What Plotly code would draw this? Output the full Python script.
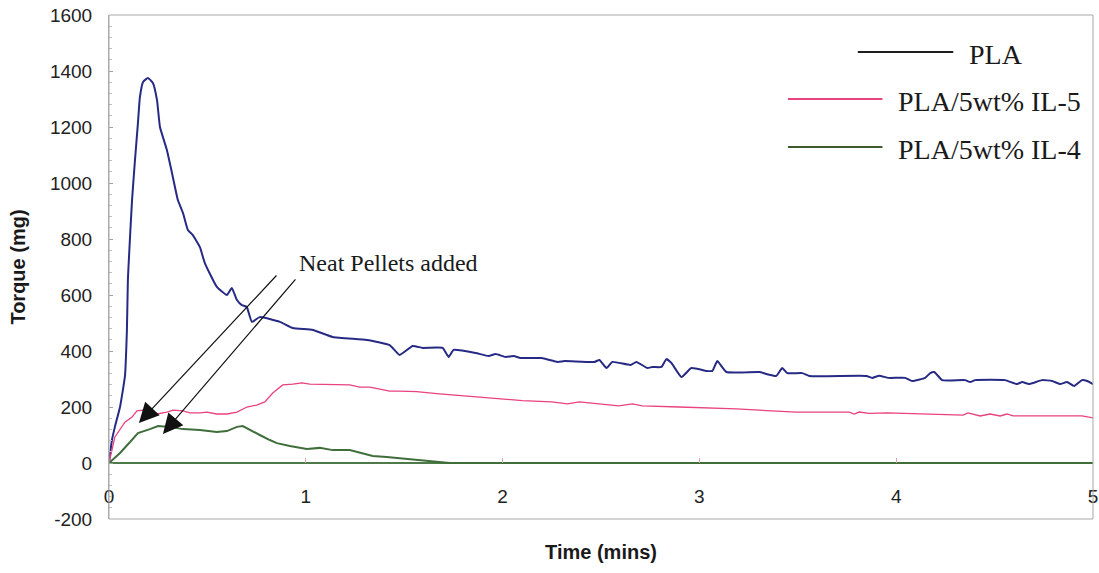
import plotly.graph_objects as go

# Torque traces recorded during melt mixing (time in minutes, torque in mg)
time_pla = [0, 0.015, 0.030, 0.056, 0.081, 0.091, 0.096, 0.099, 0.117, 0.132, 0.147, 0.157,
            0.173, 0.198, 0.223, 0.244, 0.259, 0.294, 0.320, 0.350, 0.376, 0.401, 0.426,
            0.462, 0.487, 0.548, 0.599, 0.624, 0.650, 0.675, 0.700, 0.726, 0.766, 0.868,
            0.934, 1.036, 1.137, 1.310, 1.426, 1.477, 1.543, 1.594, 1.695, 1.726, 1.751,
            1.863, 1.929, 1.964, 2.015, 2.056, 2.091, 2.198, 2.280, 2.315, 2.467, 2.492,
            2.528, 2.558, 2.650, 2.680, 2.736, 2.761, 2.807, 2.832, 2.858, 2.909, 2.959,
            3.036, 3.066, 3.091, 3.137, 3.305, 3.340, 3.391, 3.421, 3.447, 3.523, 3.558,
            3.848, 3.878, 3.914, 3.960, 4.046, 4.081, 4.147, 4.173, 4.193, 4.234, 4.350,
            4.376, 4.401, 4.553, 4.614, 4.640, 4.675, 4.741, 4.792, 4.832, 4.868, 4.904,
            4.944, 4.970, 5.0]
torque_pla = [0, 82, 129, 200, 310, 475, 654, 700, 939, 1082, 1214, 1307,
              1361, 1375, 1357, 1296, 1200, 1118, 1036, 939, 893, 832, 814,
              771, 714, 629, 600, 625, 582, 564, 557, 504, 521, 504,
              482, 475, 450, 439, 421, 386, 418, 411, 411, 379, 404,
              393, 382, 389, 379, 382, 375, 375, 361, 364, 361, 368,
              339, 361, 350, 361, 339, 343, 343, 371, 357, 307, 339,
              329, 329, 364, 325, 325, 318, 311, 339, 321, 321, 311,
              311, 304, 312, 304, 304, 293, 304, 321, 325, 296, 296,
              289, 296, 296, 282, 289, 282, 296, 293, 282, 289, 275,
              296, 293, 282]

time_il5 = [0, 0.015, 0.030, 0.081, 0.117, 0.142, 0.173, 0.198, 0.244, 0.294, 0.325, 0.376,
            0.411, 0.462, 0.497, 0.548, 0.599, 0.650, 0.701, 0.751, 0.792, 0.832, 0.883,
            0.934, 0.980, 1.020, 1.223, 1.274, 1.325, 1.376, 1.426, 1.477, 1.563, 1.665,
            1.820, 1.970, 2.100, 2.250, 2.330, 2.390, 2.510, 2.590, 2.660, 2.710, 2.898,
            3.096, 3.188, 3.492, 3.761, 3.787, 3.812, 3.863, 3.954, 4.340, 4.365, 4.426,
            4.477, 4.528, 4.563, 4.594, 4.944, 5.0]
torque_il5 = [0, 46, 93, 146, 164, 186, 189, 182, 175, 182, 189, 186,
              179, 179, 182, 175, 175, 182, 200, 207, 218, 250, 279,
              282, 286, 282, 279, 271, 271, 264, 257, 257, 255, 248,
              240, 232, 223, 218, 211, 218, 211, 204, 211, 204, 200,
              196, 193, 182, 182, 175, 182, 177, 179, 171, 179, 168,
              175, 168, 175, 168, 168, 161]

time_il4 = [0, 0.056, 0.107, 0.147, 0.208, 0.249, 0.310, 0.376, 0.462, 0.548, 0.599, 0.650,
            0.680, 0.716, 0.766, 0.817, 0.853, 0.919, 1.005, 1.071, 1.137, 1.223, 1.274,
            1.340, 1.411, 1.528, 1.614, 1.731, 5.0]
torque_il4 = [0, 36, 75, 107, 121, 132, 129, 121, 118, 111, 114, 129,
              132, 118, 100, 82, 71, 61, 50, 54, 46, 46, 36,
              25, 21, 14, 7, 0, 0]

series_names = ["PLA", "PLA/5wt% IL-5", "PLA/5wt% IL-4"]
series_colors = ["#262a84", "#e8427f", "#3f6e3b"]
legend_colors = ["#1e1e1e", "#e8427f", "#3f5a2e"]

x_ticks = [0, 1, 2, 3, 4, 5]
y_ticks = [-200, 0, 200, 400, 600, 800, 1000, 1200, 1400, 1600]
y_tick_labels = [str(v) for v in y_ticks]

Y_MIN, Y_MAX = -200, 1600

fig = go.Figure()
fig.add_trace(go.Scatter(x=time_pla, y=torque_pla, mode="lines", name=series_names[0],
                         line=dict(color=series_colors[0], width=2, shape="spline", smoothing=0.4)))
fig.add_trace(go.Scatter(x=time_il5, y=torque_il5, mode="lines", name=series_names[1],
                         line=dict(color=series_colors[1], width=1.3)))
fig.add_trace(go.Scatter(x=time_il4, y=torque_il4, mode="lines", name=series_names[2],
                         line=dict(color=series_colors[2], width=2)))

tick_font = dict(family="Liberation Sans, Arial, sans-serif", size=19, color="#222222")
title_font = dict(family="Liberation Sans, Arial, sans-serif", size=20, color="#1a1a1a")
serif_font = dict(family="Liberation Serif, Times New Roman, serif", size=28, color="#1a1a1a")

fig.update_layout(
    width=1099, height=573,
    margin=dict(l=109, r=6, t=15, b=54),
    paper_bgcolor="white", plot_bgcolor="white",
    showlegend=False,
    xaxis=dict(
        range=[0, 5], anchor="free", position=(0 - Y_MIN) / (Y_MAX - Y_MIN),
        tickmode="array", tickvals=x_ticks, ticks="inside", ticklen=5, tickcolor="#d4a5a5",
        tickfont=tick_font, ticklabelstandoff=20,
        showgrid=False, zeroline=False, showline=False,
        title=dict(text="<b>Time (mins)</b>", font=title_font, standoff=38),
        automargin=False,
    ),
    yaxis=dict(
        range=[Y_MIN, Y_MAX],
        tickmode="array", tickvals=y_ticks, ticktext=y_tick_labels,
        ticks="inside", ticklen=4, tickcolor="#a0a0a0",
        minor=dict(tickmode="linear", tick0=0, dtick=40, ticks="inside", ticklen=3, tickcolor="#c0c0c0"),
        tickfont=tick_font, ticklabelstandoff=12,
        showgrid=False, showline=True, linecolor="#b0b0b0", linewidth=1,
        zeroline=True, zerolinecolor="#4d7a48", zerolinewidth=1.5,
        title=dict(text="<b>Torque (mg)</b>", font=title_font, standoff=18),
        automargin=False,
    ),
)

# plot frame
fig.add_shape(type="rect", xref="paper", yref="paper", x0=0, x1=1, y0=0, y1=1,
              line=dict(color="#a8a8a8", width=1), layer="above")

# annotation text and arrows pointing at the pellet addition
fig.add_annotation(x=0.954, y=714, xref="x", yref="y", text="Neat Pellets added",
                   showarrow=False, xanchor="left", yanchor="middle",
                   font=dict(family="Liberation Serif, Times New Roman, serif", size=24, color="#1a1a1a"))
for tip, tail in [((0.152, 143), (0.858, 675)), ((0.274, 104), (0.954, 661))]:
    fig.add_annotation(x=tip[0], y=tip[1], ax=tail[0], ay=tail[1],
                       xref="x", yref="y", axref="x", ayref="y", text="",
                       showarrow=True, arrowhead=2, arrowsize=3.3, arrowwidth=1.2,
                       arrowcolor="#111111")

# legend block
legend_rows = [
    (0.761, 0.858, 0.9266, 0.872),
    (0.690, 0.786, 0.8333, 0.800),
    (0.690, 0.786, 0.7381, 0.800),
]
for (x0, x1, yy, xt), name, col in zip(legend_rows, series_names, legend_colors):
    fig.add_shape(type="line", xref="paper", yref="paper", x0=x0, x1=x1, y0=yy, y1=yy,
                  line=dict(color=col, width=2))
    fig.add_annotation(x=xt, y=yy - 0.004, xref="paper", yref="paper", text=name,
                       showarrow=False, xanchor="left", yanchor="middle", font=serif_font)

fig.write_html("out.html")
